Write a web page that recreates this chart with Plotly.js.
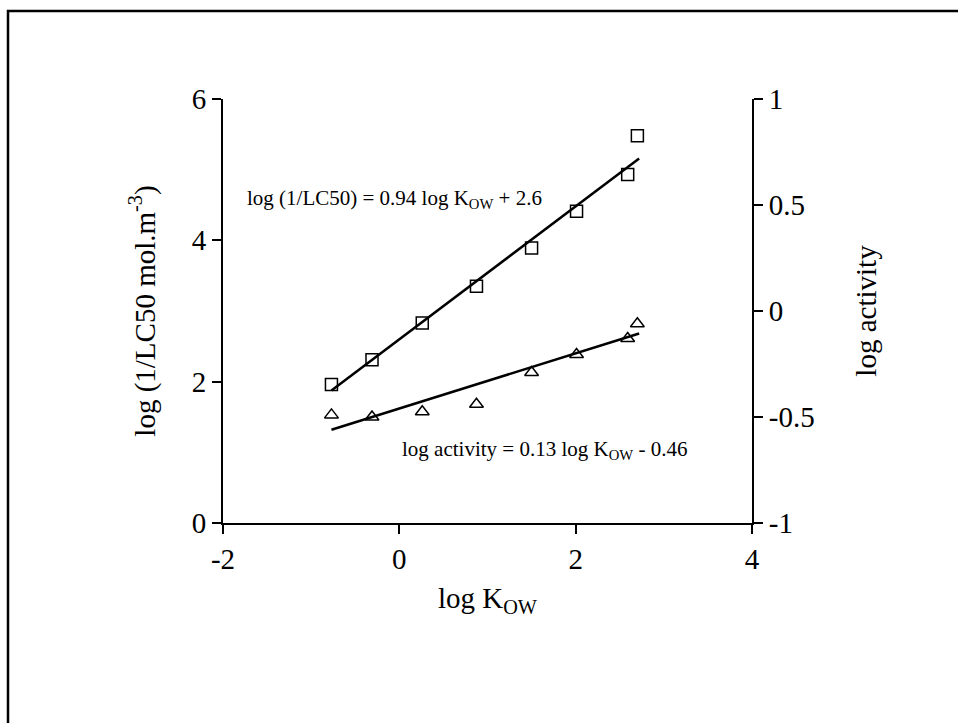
<!DOCTYPE html>
<html>
<head>
<meta charset="utf-8">
<script src="https://cdn.plot.ly/plotly-3.0.1.min.js"></script>
<style>
html,body{margin:0;padding:0;background:#fff;}
#chart{width:958px;height:723px;}
</style>
</head>
<body>
<div id="chart"></div>
<script>
// Data
const logKow = [-0.77, -0.31, 0.26, 0.875, 1.5, 2.01, 2.59, 2.70];
const logInvLC50 = [1.96, 2.31, 2.83, 3.35, 3.89, 4.41, 4.93, 5.48];
const logActivity = [-0.49, -0.50, -0.475, -0.44, -0.29, -0.205, -0.13, -0.06];
// Regression coefficients as given in the chart
const fitLC50 = {slope: 0.94, intercept: 2.6};
const fitAct = {slope: 0.13, intercept: -0.46};
const fitRange = [-0.77, 2.72];

const leftTicks = [0, 2, 4, 6];
const leftTickText = ['0', '2', '4', '6'];
const rightTicks = [-1, -0.5, 0, 0.5, 1];
const rightTickText = ['-1', '-0.5', '0', '0.5', '1'];
const xTicks = [-2, 0, 2, 4];
const xTickText = ['-2', '0', '2', '4'];

const font = 'Liberation Serif, Times New Roman, serif';
const FS = 29;

const lineY1 = fitRange.map(x => fitLC50.slope * x + fitLC50.intercept);
const lineY2 = fitRange.map(x => fitAct.slope * x + fitAct.intercept);

const traces = [
  {x: fitRange, y: lineY1, mode: 'lines', line: {color: '#000', width: 2.5}, xaxis: 'x', yaxis: 'y', hoverinfo: 'skip'},
  {x: logKow, y: logInvLC50, mode: 'markers', marker: {symbol: 'square-open', size: 12, color: '#000', line: {width: 1.5}}, xaxis: 'x', yaxis: 'y'},
  {x: fitRange, y: lineY2, mode: 'lines', line: {color: '#000', width: 2.5}, xaxis: 'x', yaxis: 'y2', hoverinfo: 'skip'},
  {x: logKow, y: logActivity, mode: 'markers', marker: {symbol: 'triangle-up-open', size: 12, color: '#000', line: {width: 1.5}}, xaxis: 'x', yaxis: 'y2'}
];

const L = 223, R = 752, T = 99, B = 523;
const pw = R - L, ph = B - T;
const px = v => (v - L) / pw;
const py = v => (B - v) / ph;

const axisCommon = {
  showline: true, linecolor: '#000', linewidth: 2,
  ticks: 'outside', ticklen: 9, tickwidth: 2, tickcolor: '#000',
  showgrid: false, zeroline: false,
  tickfont: {family: font, size: FS}
};

const layout = {
  width: 958, height: 723,
  margin: {l: L, r: 958 - R, t: T, b: 723 - B, pad: 0},
  paper_bgcolor: '#fff', plot_bgcolor: '#fff',
  showlegend: false,
  font: {family: font, color: '#000', size: FS},
  xaxis: Object.assign({}, axisCommon, {
    range: [-2, 4], tickvals: xTicks, ticktext: xTickText,
    title: {text: 'log K<sub>OW</sub>', font: {family: font, size: FS}, standoff: 14}
  }),
  yaxis: Object.assign({}, axisCommon, {
    range: [0, 6], tickvals: leftTicks, ticktext: leftTickText,
    title: {text: 'log (1/LC50 mol.m<sup>-3</sup>)', font: {family: font, size: FS}, standoff: 28}
  }),
  yaxis2: Object.assign({}, axisCommon, {
    range: [-1, 1], tickvals: rightTicks, ticktext: rightTickText,
    overlaying: 'y', side: 'right',
    title: {text: 'log activity', font: {family: font, size: FS}, standoff: 42}
  }),
  annotations: [
    {xref: 'paper', yref: 'paper', x: px(245), y: py(199), xanchor: 'left', yanchor: 'middle',
     text: 'log (1/LC50) = 0.94 log K<sub>OW</sub> + 2.6', showarrow: false, font: {family: font, size: 21}},
    {xref: 'paper', yref: 'paper', x: px(400), y: py(450), xanchor: 'left', yanchor: 'middle',
     text: 'log activity = 0.13 log K<sub>OW</sub> - 0.46', showarrow: false, font: {family: font, size: 21}}
  ],
  shapes: [
    {type: 'rect', xref: 'paper', yref: 'paper', x0: px(8), y0: py(11), x1: px(990), y1: py(760),
     line: {color: '#000', width: 2.5}, fillcolor: 'rgba(0,0,0,0)'}
  ]
};

Plotly.newPlot('chart', traces, layout, {displayModeBar: false, staticPlot: true});
</script>
</body>
</html>
